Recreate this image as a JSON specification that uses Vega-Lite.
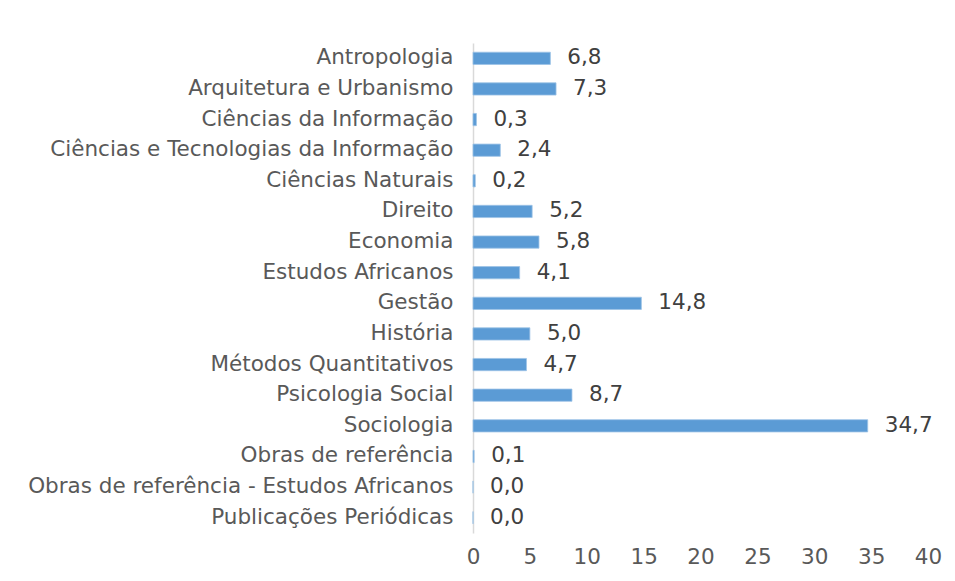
{
  "$schema": "https://vega.github.io/schema/vega-lite/v6.json",
  "autosize": "none",
  "width": 455,
  "height": 490,
  "padding": {"left": 473, "top": 43, "right": 27, "bottom": 48},
  "background": "white",
  "config": {
    "view": {"stroke": null},
    "locale": {"number": {"decimal": ",", "thousands": ".", "grouping": [3], "currency": ["", " €"]}},
    "font": "DejaVu Sans",
    "axis": {"labelFont": "DejaVu Sans"},
    "text": {"font": "DejaVu Sans"}
  },
  "data": {"values": [
    {"area": "Antropologia", "value": 6.8},
    {"area": "Arquitetura e Urbanismo", "value": 7.3},
    {"area": "Ciências da Informação", "value": 0.3},
    {"area": "Ciências e Tecnologias da Informação", "value": 2.4},
    {"area": "Ciências Naturais", "value": 0.2},
    {"area": "Direito", "value": 5.2},
    {"area": "Economia", "value": 5.8},
    {"area": "Estudos Africanos", "value": 4.1},
    {"area": "Gestão", "value": 14.8},
    {"area": "História", "value": 5.0},
    {"area": "Métodos Quantitativos", "value": 4.7},
    {"area": "Psicologia Social", "value": 8.7},
    {"area": "Sociologia", "value": 34.7},
    {"area": "Obras de referência", "value": 0.1},
    {"area": "Obras de referência - Estudos Africanos", "value": 0.0},
    {"area": "Publicações Periódicas", "value": 0.0}
  ]},
  "encoding": {
    "y": {
      "field": "area", "type": "nominal", "sort": null,
      "scale": {"paddingInner": 0.6, "paddingOuter": 0.3},
      "axis": {
        "title": null, "ticks": false, "domainColor": "#d9d9d9", "domainWidth": 1.5,
        "labelFont": "DejaVu Sans", "labelFontSize": 21.5, "labelColor": "#595959", "labelPadding": 20, "labelLimit": 600
      }
    }
  },
  "layer": [
    {
      "mark": {"type": "bar", "color": "#5b9bd5", "stroke": "#9dc3e6", "strokeWidth": 0.8},
      "encoding": {
        "x": {
          "field": "value", "type": "quantitative",
          "scale": {"domain": [0, 40], "nice": false},
          "axis": {
            "title": null, "values": [0, 5, 10, 15, 20, 25, 30, 35, 40], "format": "d",
            "domain": false, "ticks": false, "grid": false, "labelFlush": false,
            "labelFont": "DejaVu Sans", "labelFontSize": 21.5, "labelColor": "#595959", "labelPadding": 13
          }
        }
      }
    },
    {
      "mark": {"type": "text", "align": "left", "dx": 17, "font": "DejaVu Sans", "fontSize": 21.5, "color": "#404040", "baseline": "middle"},
      "encoding": {
        "x": {"field": "value", "type": "quantitative"},
        "text": {"field": "value", "type": "quantitative", "format": ".1f"}
      }
    }
  ]
}
